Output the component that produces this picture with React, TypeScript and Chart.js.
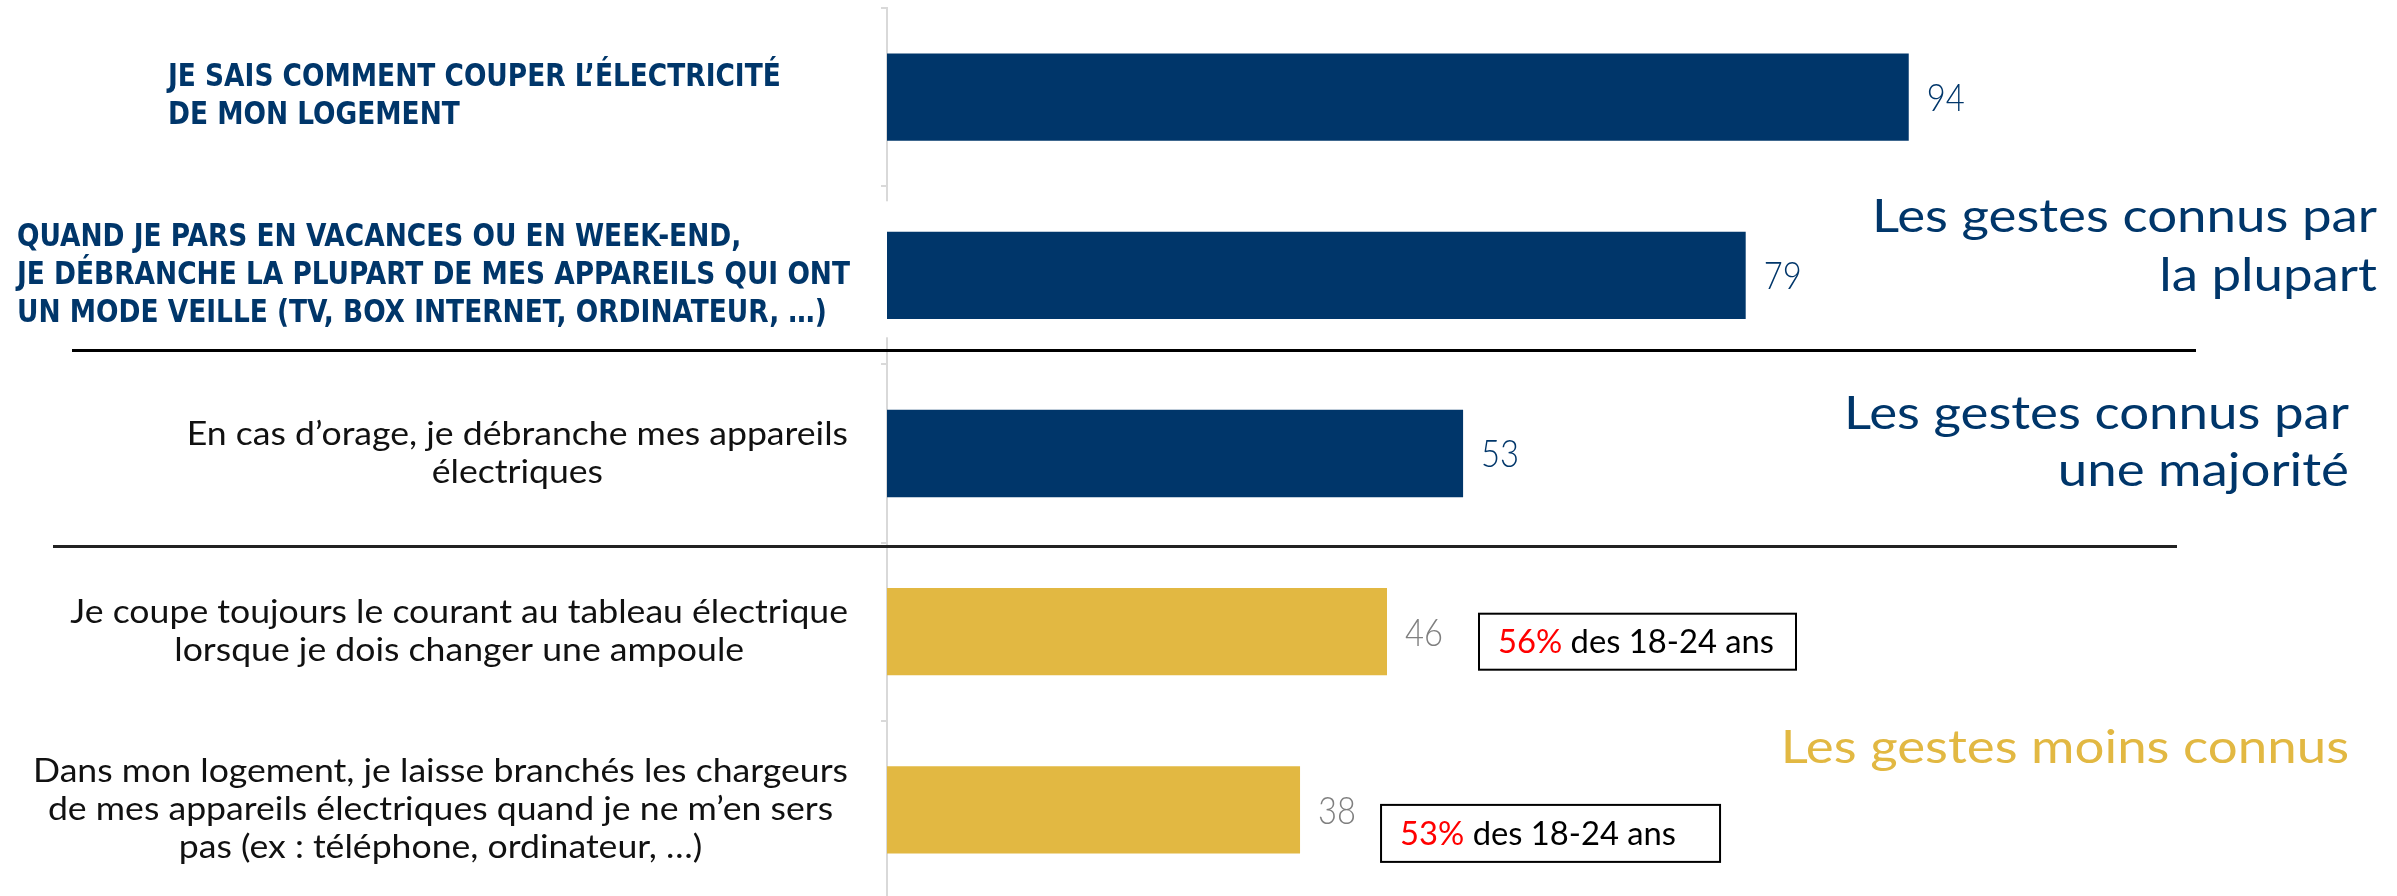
import React, { useEffect, useRef } from "react";
import { Chart, registerables } from "chart.js";

Chart.register(...registerables);

// ---------- DATA ----------
const categories: string[][] = [
  ["JE SAIS COMMENT COUPER L’ÉLECTRICITÉ", "DE MON LOGEMENT"],
  [
    "QUAND JE PARS EN VACANCES OU EN WEEK-END,",
    "JE DÉBRANCHE LA PLUPART DE MES APPAREILS QUI ONT",
    "UN MODE VEILLE (TV, BOX INTERNET, ORDINATEUR, …)",
  ],
  ["En cas d’orage, je débranche mes appareils", "électriques"],
  ["Je coupe toujours le courant au tableau électrique", "lorsque je dois changer une ampoule"],
  [
    "Dans mon logement, je laisse branchés les chargeurs",
    "de mes appareils électriques quand je ne m’en sers",
    "pas (ex : téléphone, ordinateur, …)",
  ],
];
const values = [94, 79, 53, 46, 38];
const emphasized = [true, true, false, false, false];
const groupOf = [0, 0, 1, 2, 2];
const groupTitles: string[][] = [
  ["Les gestes connus par", "la plupart"],
  ["Les gestes connus par", "une majorité"],
  ["Les gestes moins connus"],
];
const youthIndex = [3, 4];
const youthValues = [56, 53];
const youthSuffix = " des 18-24 ans";

// ---------- STYLE ----------
const NAVY = "#00366A";
const GOLD = "#E2B842";
const groupBarColors = [NAVY, NAVY, GOLD];
const groupValueColors = [NAVY, NAVY, "#7F7F7F"];
const groupTitleColors = [NAVY, NAVY, GOLD];
const REG = '"Lato", "Open Sans", sans-serif';
const COND = '"Liberation Sans Narrow", "DejaVu Sans Condensed", sans-serif';

const boldLabelLeft = [168, 17];
const normalLabelRight = 848;
const labelLineH = 38;
const groupTitleRight = [2377, 2349, 2349];
const groupTitleAnchor = [1, 2, 4];
const groupTitleOffsets = [[-43, 16], [-25, 32], [-47]];
const sepOffsets = [-14, 4];
const sepX = [[72, 2196], [53, 2177]];
const boxGeom = [
  { dx: 92, dy: -18, w: 317, h: 56 },
  { dx: 81, dy: -5, w: 339, h: 57 },
];

type TStyle = { size: number; weight: string; family: string; sx: number };

function makeStyle(
  ctx: CanvasRenderingContext2D,
  ref: string,
  weight: string,
  family: string,
  size: number,
  targetW: number
): TStyle {
  ctx.font = `${weight} ${size}px ${family}`;
  const w = ctx.measureText(ref).width;
  return { size, weight, family, sx: targetW / w };
}

function draw(
  ctx: CanvasRenderingContext2D,
  st: TStyle,
  text: string,
  x: number,
  y: number,
  align: CanvasTextAlign,
  baseline: CanvasTextBaseline,
  color: string
) {
  ctx.save();
  ctx.font = `${st.weight} ${st.size}px ${st.family}`;
  ctx.fillStyle = color;
  ctx.textAlign = align;
  ctx.textBaseline = baseline;
  ctx.translate(x, y);
  ctx.scale(st.sx, 1);
  ctx.fillText(text, 0, 0);
  ctx.restore();
}

function width(ctx: CanvasRenderingContext2D, st: TStyle, text: string) {
  ctx.save();
  ctx.font = `${st.weight} ${st.size}px ${st.family}`;
  const w = ctx.measureText(text).width * st.sx;
  ctx.restore();
  return w;
}

const overlay = {
  id: "overlay",
  beforeDatasetsDraw(chart: any) {
    const { ctx, chartArea, scales } = chart;
    const yc = scales.y.getPixelForValue(1);
    ctx.save();
    ctx.fillStyle = "#fff";
    ctx.fillRect(chartArea.left - 3, yc - 74, 6, 136);
    ctx.restore();
  },
  afterDraw(chart: any) {
    const { ctx, scales } = chart;
    const ys = scales.y;
    const xs = scales.x;
    ctx.save();

    const regSt = makeStyle(ctx, categories[4][0], "400", REG, 32, 815);
    const boldSt = makeStyle(ctx, categories[1][1], "700", COND, 32, 833);
    const titleSt = makeStyle(ctx, groupTitles[0][0], "400", REG, 46, 505);
    const boxSt = makeStyle(ctx, `${youthValues[0]}%${youthSuffix}`, "400", REG, 32, 276);
    const valSt = makeStyle(ctx, "94", "300", REG, 37, 38);

    // left labels
    categories.forEach((lines, i) => {
      const yc = ys.getPixelForValue(i);
      const y0 = yc - ((lines.length - 1) / 2) * labelLineH;
      if (emphasized[i]) {
        lines.forEach((t, k) =>
          draw(ctx, boldSt, t, boldLabelLeft[i], y0 + k * labelLineH, "left", "middle", NAVY)
        );
      } else {
        const maxW = Math.max(...lines.map((t) => width(ctx, regSt, t)));
        const cx = normalLabelRight - maxW / 2;
        lines.forEach((t, k) => draw(ctx, regSt, t, cx, y0 + k * labelLineH, "center", "middle", "#111111"));
      }
    });

    // value labels
    values.forEach((v, i) => {
      draw(
        ctx,
        valSt,
        String(v),
        xs.getPixelForValue(v) + 18,
        ys.getPixelForValue(i) + 2,
        "left",
        "middle",
        groupValueColors[groupOf[i]]
      );
    });

    // separators
    let s = 0;
    for (let i = 0; i < groupOf.length - 1; i++) {
      if (groupOf[i] !== groupOf[i + 1]) {
        const y = (ys.getPixelForValue(i) + ys.getPixelForValue(i + 1)) / 2 + sepOffsets[s];
        ctx.strokeStyle = s === 0 ? "#000" : "#222";
        ctx.lineWidth = 3;
        ctx.beginPath();
        ctx.moveTo(sepX[s][0], y);
        ctx.lineTo(sepX[s][1], y);
        ctx.stroke();
        s++;
      }
    }

    // group titles
    groupTitles.forEach((lines, g) => {
      const yc = ys.getPixelForValue(groupTitleAnchor[g]);
      lines.forEach((t, k) =>
        draw(ctx, titleSt, t, groupTitleRight[g], yc + groupTitleOffsets[g][k], "right", "alphabetic", groupTitleColors[g])
      );
    });

    // youth boxes
    youthIndex.forEach((idx, j) => {
      const b = boxGeom[j];
      const left = xs.getPixelForValue(values[idx]) + b.dx;
      const top = ys.getPixelForValue(idx) + b.dy;
      ctx.fillStyle = "#fff";
      ctx.fillRect(left, top, b.w, b.h);
      ctx.strokeStyle = "#000";
      ctx.lineWidth = 2;
      ctx.strokeRect(left, top, b.w, b.h);
      const pct = `${youthValues[j]}%`;
      const ty = top + b.h / 2 + 1;
      draw(ctx, boxSt, pct, left + 19, ty, "left", "middle", "#FF0000");
      const pw = width(ctx, boxSt, pct);
      draw(ctx, boxSt, youthSuffix, left + 19 + pw, ty, "left", "middle", "#000000");
    });

    ctx.restore();
  },
};

export default function App() {
  const ref = useRef<HTMLCanvasElement>(null);
  useEffect(() => {
    const chart = new Chart(ref.current as HTMLCanvasElement, {
      type: "bar",
      data: {
        labels: categories.map((c) => c.join(" ")),
        datasets: [
          {
            data: values,
            backgroundColor: values.map((_, i) => groupBarColors[groupOf[i]]),
            borderWidth: 0,
            barPercentage: 0.49,
            categoryPercentage: 1,
          },
        ],
      },
      options: {
        indexAxis: "y",
        responsive: false,
        animation: false,
        events: [],
        layout: { padding: { top: 8, bottom: 1, left: 8, right: 10 } },
        plugins: { legend: { display: false }, tooltip: { enabled: false } },
        scales: {
          x: { display: false, min: 0, max: 138 },
          y: {
            display: true,
            ticks: { display: false },
            grid: {
              drawOnChartArea: false,
              drawTicks: true,
              tickLength: 6,
              color: "#D9D9D9",
              lineWidth: 2,
            },
            border: { display: true, color: "#D9D9D9", width: 2 },
            afterFit: (scale: any) => {
              scale.width = 879;
            },
          },
        },
      },
      plugins: [overlay],
    } as any);
    return () => chart.destroy();
  }, []);
  return (
    <div
      style={{
        position: "fixed",
        left: 0,
        top: 0,
        width: 2397,
        height: 896,
        overflow: "hidden",
        background: "#fff",
      }}
    >
      <canvas ref={ref} width={2397} height={900} style={{ display: "block" }} />
    </div>
  );
}
